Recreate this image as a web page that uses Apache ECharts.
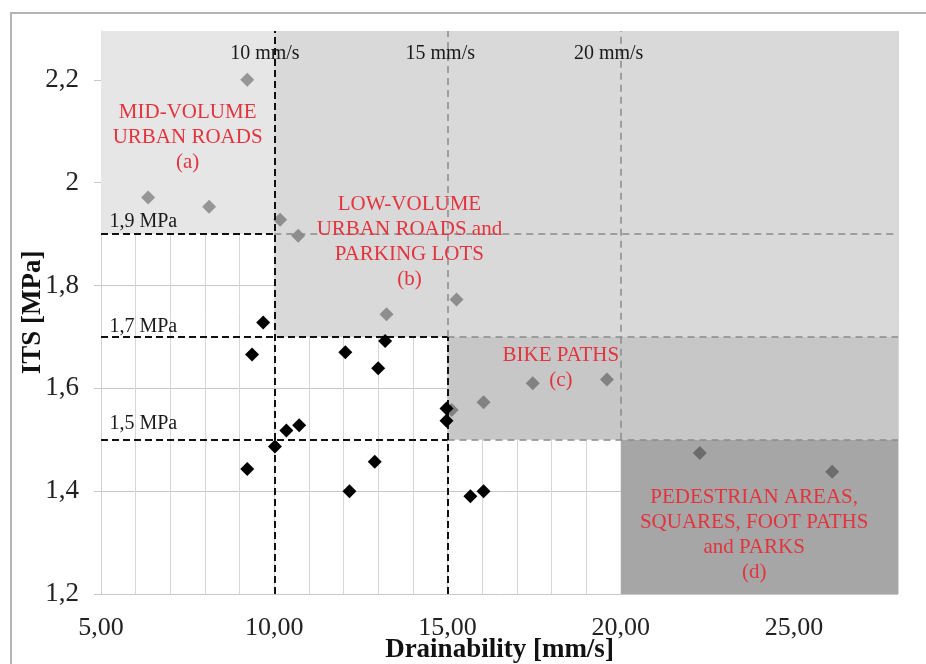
<!DOCTYPE html>
<html>
<head>
<meta charset="utf-8">
<script src="https://cdn.jsdelivr.net/npm/echarts@6/dist/echarts.min.js"></script>
<style>
html,body{margin:0;padding:0;background:#fff;}
#chart{width:926px;height:664px;}
</style>
</head>
<body>
<div id="chart"></div>
<script>
// ---- data ----
const X_MIN = 5, X_MAX = 28, Y_MIN = 1.2, Y_MAX = 2.295;
const xTickLabels = ['5,00', '10,00', '15,00', '20,00', '25,00'];
const yTickLabels = ['1,2', '1,4', '1,6', '1,8', '2', '2,2'];

// samples below all thresholds (black diamonds)
const blackPoints = [
  [9.68, 1.728], [9.36, 1.666], [12.05, 1.670], [13.00, 1.639], [13.20, 1.692],
  [10.35, 1.518], [10.72, 1.528], [10.02, 1.487], [9.22, 1.443], [12.17, 1.400],
  [12.90, 1.457], [15.66, 1.390], [16.04, 1.400], [14.97, 1.561], [14.97, 1.537]
];
// samples inside a classification zone (grey diamonds)
const greyPoints = [
  [9.22, 2.200], [6.36, 1.971], [8.12, 1.953], [10.17, 1.928], [10.69, 1.897],
  [13.24, 1.744], [15.26, 1.773], [15.12, 1.558], [16.04, 1.573], [17.46, 1.610],
  [19.60, 1.617], [22.28, 1.474], [26.10, 1.438]
];

// classification zones [x0, y0, x1, y1]
const zoneA = [5, 1.9, 10, Y_MAX];
const zoneB = [10, 1.7, 28, Y_MAX];
const zoneC = [15, 1.5, 28, 1.7];
const zoneD = [20, 1.2, 28, 1.5];

// threshold segments
const blackThresholds = [
  [[5, 1.9], [10, 1.9]], [[5, 1.7], [15, 1.7]], [[5, 1.5], [15, 1.5]],
  [[10, 1.2], [10, Y_MAX]], [[15, 1.2], [15, 1.7]]
];
const greyThresholds = [
  [[10, 1.9], [28, 1.9]], [[15, 1.7], [28, 1.7]], [[15, 1.5], [28, 1.5]],
  [[15, 1.7], [15, Y_MAX]], [[20, 1.5], [20, Y_MAX]]
];

// annotation texts
const thresholdTexts = [
  ['10 mm/s', 9.73, 2.25], ['15 mm/s', 14.79, 2.25], ['20 mm/s', 19.65, 2.25],
  ['1,9 MPa', 6.22, 1.924], ['1,7 MPa', 6.22, 1.720], ['1,5 MPa', 6.22, 1.532]
];
const zoneTexts = [
  ['MID-VOLUME\nURBAN ROADS\n(a)', 7.5, 2.087],
  ['LOW-VOLUME\nURBAN ROADS and\nPARKING LOTS\n(b)', 13.9, 1.885],
  ['BIKE PATHS\n(c)', 18.27, 1.639],
  ['PEDESTRIAN AREAS,\nSQUARES, FOOT PATHS\nand PARKS\n(d)', 23.85, 1.315]
];

// ---- chart ----
const SERIF = "'Liberation Serif', 'Times New Roman', serif";
const zone = (z, color) => [{coord: [z[0], z[1]], itemStyle: {color: color}}, {coord: [z[2], z[3]]}];
const seg = s => [{coord: s[0]}, {coord: s[1]}];

const chart = echarts.init(document.getElementById('chart'));
chart.setOption({
  animation: false,
  backgroundColor: '#ffffff',
  graphic: [{
    type: 'rect', silent: true, z: 100,
    shape: {x: 11, y: 13, width: 940, height: 700},
    style: {fill: 'none', stroke: '#b4b4b4', lineWidth: 2}
  }],
  grid: {left: 101, right: 28, top: 31, bottom: 70, containLabel: false, outerBoundsMode: 'none'},
  xAxis: {
    type: 'value', min: X_MIN, max: X_MAX, interval: 1,
    name: 'Drainability [mm/s]', nameLocation: 'middle', nameGap: 43, nameMoveOverlap: false,
    nameTextStyle: {fontFamily: SERIF, fontWeight: 'bold', fontSize: 27, color: '#111'},
    axisLine: {show: false},
    axisTick: {show: false},
    axisLabel: {
      fontFamily: SERIF, fontSize: 26, color: '#222', margin: 21,
      showMaxLabel: false,
      formatter: v => {
        const i = xTickLabels.indexOf(v.toFixed(2).replace('.', ','));
        return i >= 0 ? xTickLabels[i] : '';
      }
    },
    splitLine: {show: true, lineStyle: {color: '#d6d6d6', width: 1}}
  },
  yAxis: {
    type: 'value', min: Y_MIN, max: Y_MAX, interval: 0.2,
    name: 'ITS [MPa]', nameLocation: 'middle', nameGap: 54, nameRotate: 90, nameMoveOverlap: false,
    nameTextStyle: {fontFamily: SERIF, fontWeight: 'bold', fontSize: 27, color: '#111'},
    axisLine: {show: true, lineStyle: {color: '#d0d0d0'}},
    axisTick: {show: true, length: 7, lineStyle: {color: '#c8c8c8'}},
    axisLabel: {
      fontFamily: SERIF, fontSize: 27, color: '#222', margin: 22,
      showMaxLabel: false,
      formatter: v => {
        const s = String(+v.toFixed(1)).replace('.', ',');
        return yTickLabels.indexOf(s) >= 0 ? s : '';
      }
    },
    splitLine: {show: true, lineStyle: {color: '#c8c8c8', width: 1}}
  },
  series: [
    {
      type: 'scatter', data: [], z: 1, silent: true,
      markArea: {
        silent: true,
        data: [zone(zoneA, '#e6e6e6'), zone(zoneB, '#d9d9d9'), zone(zoneC, '#c7c7c7'), zone(zoneD, '#a6a6a6')]
      }
    },
    {
      type: 'scatter', data: [], z: 2, silent: true,
      markLine: {
        silent: true, symbol: ['none', 'none'], label: {show: false},
        lineStyle: {color: '#8a8a8a', width: 1.5, type: [7, 5]},
        data: greyThresholds.map(seg)
      }
    },
    {
      type: 'scatter', data: [], z: 3, silent: true,
      markLine: {
        silent: true, symbol: ['none', 'none'], label: {show: false},
        lineStyle: {color: '#111', width: 2, type: [7, 4]},
        data: blackThresholds.map(seg)
      }
    },
    {
      name: 'zone samples', type: 'scatter', z: 4, symbol: 'diamond', symbolSize: 14,
      itemStyle: {color: 'rgba(0,0,0,0.43)'},
      data: greyPoints
    },
    {
      name: 'other samples', type: 'scatter', z: 5, symbol: 'diamond', symbolSize: 14,
      itemStyle: {color: '#000000', opacity: 1},
      data: blackPoints
    },
    {
      type: 'scatter', data: [], z: 6, silent: true,
      markPoint: {
        silent: true, symbol: 'circle', symbolSize: 1, itemStyle: {color: 'rgba(0,0,0,0)'},
        label: {show: true, position: 'inside', formatter: p => p.name,
          fontFamily: SERIF, fontSize: 20, color: '#1a1a1a'},
        data: thresholdTexts.map(t => ({name: t[0], coord: [t[1], t[2]]}))
      }
    },
    {
      type: 'scatter', data: [], z: 7, silent: true,
      markPoint: {
        silent: true, symbol: 'circle', symbolSize: 1, itemStyle: {color: 'rgba(0,0,0,0)'},
        label: {show: true, position: 'inside', formatter: p => p.name, align: 'center',
          fontFamily: SERIF, fontSize: 21, lineHeight: 25, color: '#e3343e'},
        data: zoneTexts.map(t => ({name: t[0], coord: [t[1], t[2]]}))
      }
    }
  ]
});
</script>
</body>
</html>
